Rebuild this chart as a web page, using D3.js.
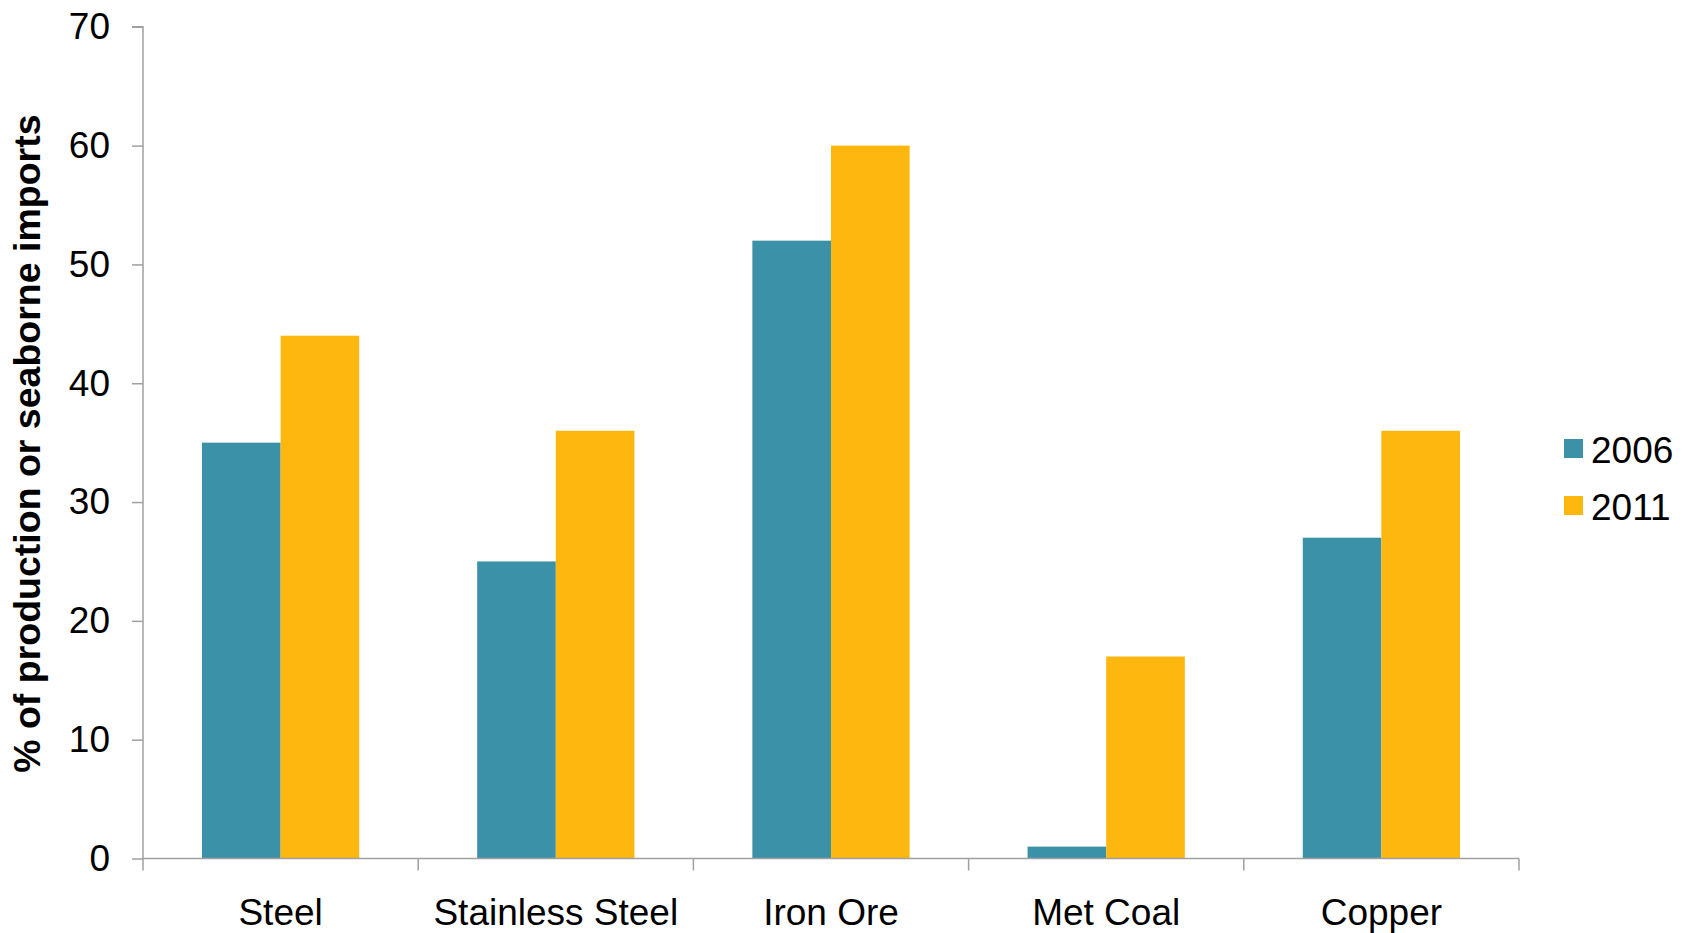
<!DOCTYPE html>
<html>
<head>
<meta charset="utf-8">
<script src="https://cdn.jsdelivr.net/npm/d3@7"></script>
<style>
  html, body { margin: 0; padding: 0; background: #fff; }
  svg { display: block; font-family: "Liberation Sans", Arial, sans-serif; }
</style>
</head>
<body>
<svg id="chart" width="1684" height="933"></svg>
<script>
const categories = ["Steel", "Stainless Steel", "Iron Ore", "Met Coal", "Copper"];
const seriesNames = ["2006", "2011"];
const values2006 = [35, 25, 52, 1, 27];
const values2011 = [44, 36, 60, 17, 36];
const yTicks = [0, 10, 20, 30, 40, 50, 60, 70];
const colors = ["#3A91A8", "#FDB70E"];
const yTitle = "% of production or seaborne imports";

(function () {
const seriesValues = [values2006, values2011];

const svg = d3.select("#chart");
const plotLeft = 143, plotRight = 1519, plotTop = 26.8, plotBottom = 858.5;
const axisColor = "#A0A0A0";
const fs = 37;

const x = d3.scaleBand().domain(categories).range([plotLeft, plotRight]).paddingInner(0).paddingOuter(0);
const bw = x.bandwidth();
const x1 = d3.scaleBand().domain(seriesNames).range([bw * 0.75 / 3.5, bw * 2.75 / 3.5]).padding(0);
const y = d3.scaleLinear().domain([0, 70]).range([plotBottom, plotTop]);

// Bars
const g = svg.append("g");
seriesNames.forEach((s, si) => {
  g.selectAll(".bar" + si)
    .data(categories)
    .enter().append("rect")
    .attr("x", c => x(c) + x1(s))
    .attr("width", x1.bandwidth())
    .attr("y", (c, i) => y(seriesValues[si][i]))
    .attr("height", (c, i) => plotBottom - y(seriesValues[si][i]))
    .attr("fill", colors[si]);
});

// Y axis
const yAxis = svg.append("g")
  .attr("transform", `translate(${plotLeft},0)`)
  .call(d3.axisLeft(y).tickValues(yTicks).tickSize(11).tickPadding(22).tickFormat(d3.format("d")));
yAxis.select(".domain").attr("stroke", axisColor).attr("stroke-width", 1.5).attr("d", `M-11,${plotTop}H0V${plotBottom}`);
yAxis.selectAll(".tick line").attr("stroke", axisColor).attr("stroke-width", 1.5);
yAxis.selectAll(".tick text").attr("font-size", fs).attr("fill", "#000").attr("font-family", "Liberation Sans, Arial, sans-serif");

// X axis
const boundaries = categories.map(c => x(c)).concat([plotRight]);
const xAxis = svg.append("g").attr("transform", `translate(0,${plotBottom})`);
xAxis.append("line").attr("x1", plotLeft).attr("x2", plotRight).attr("y1", 0).attr("y2", 0)
  .attr("stroke", axisColor).attr("stroke-width", 1.5);
xAxis.selectAll(".xtick").data(boundaries).enter().append("line")
  .attr("x1", d => d).attr("x2", d => d).attr("y1", 0).attr("y2", 12)
  .attr("stroke", axisColor).attr("stroke-width", 1.5);
xAxis.selectAll(".xlabel").data(categories).enter().append("text")
  .attr("x", c => x(c) + bw / 2)
  .attr("y", 925 - plotBottom)
  .attr("text-anchor", "middle")
  .attr("font-size", fs)
  .attr("fill", "#000")
  .text(c => c);

// Y title
svg.append("text")
  .attr("transform", `translate(40,${(plotTop + plotBottom) / 2 + 1}) rotate(-90)`)
  .attr("text-anchor", "middle")
  .attr("font-size", 37.5)
  .attr("font-weight", "bold")
  .attr("fill", "#000")
  .text(yTitle);

// Legend
const legend = svg.append("g");
seriesNames.forEach((s, i) => {
  legend.append("rect").attr("x", 1564).attr("y", 439 + i * 57).attr("width", 19).attr("height", 19).attr("fill", colors[i]);
  legend.append("text").attr("x", 1591).attr("y", 463 + i * 57).attr("font-size", fs).attr("fill", "#000").text(s);
});
})();
</script>
</body>
</html>
